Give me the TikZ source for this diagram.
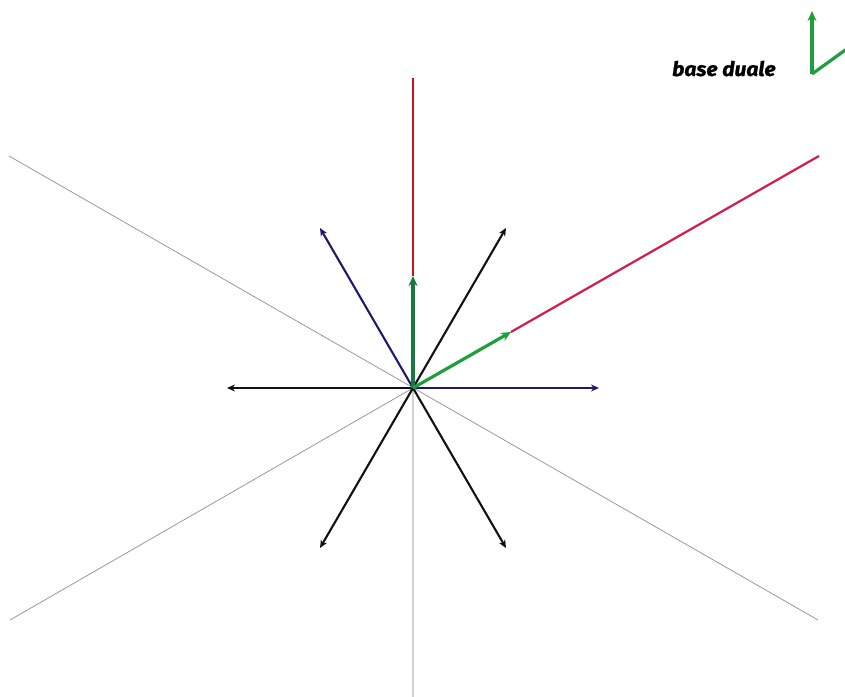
\documentclass[tikz,border=0pt]{standalone}
\usepackage{fontspec}
\setmainfont{Fira Sans}
\newfontfamily\legfont[UprightFont={* Bold Italic}, FakeBold=1.2, FakeStretch=1.05]{Fira Sans}
\usetikzlibrary{arrows.meta}
\definecolor{rootblack}{HTML}{111111}
\definecolor{rootblue}{HTML}{1B1A6B}
\definecolor{wgreen}{HTML}{1E9E3C}
\definecolor{wgreendark}{HTML}{157A3E}
\definecolor{redA}{HTML}{C41414}
\definecolor{redB}{HTML}{D01E48}
\tikzset{
  root/.style={line width=2.1pt,-{Stealth[length=8pt,width=7pt]}},
  weight/.style={line width=3.2pt,-{Stealth[length=10pt,width=9pt]}},
  wall/.style={line width=0.8pt,color=gray!80},
  wallv/.style={line width=2.2pt,color=gray!35},
  chamber/.style={line width=2.2pt},
}
\begin{document}
\begin{tikzpicture}[x=1pt,y=-1pt]
\useasboundingbox (0,0) rectangle (845,696);
\clip (0,0) rectangle (845,696);
\coordinate (O) at (413,388);
% walls
\coordinate (UL) at (9,156);
\coordinate (LR) at (818,620);
\coordinate (LL) at (10,620);
\coordinate (UR) at (819,156);
\coordinate (TOP) at (413,78);
\coordinate (BOT) at (413,700);
\draw[wall] (UL) -- (LR);
\draw[wall] (LL) -- (O);
\draw[wallv] (O) -- (BOT);
% roots
\coordinate (r0) at (599,388);
\coordinate (r60) at (506,228);
\coordinate (r120) at (320,228);
\coordinate (r180) at (227,388);
\coordinate (r240) at (320,548);
\coordinate (r300) at (506,548);
\draw[root,rootblack] (O) -- (r60);
\draw[root,rootblack] (O) -- (r180);
\draw[root,rootblack] (O) -- (r240);
\draw[root,rootblack] (O) -- (r300);
\draw[root,rootblue] (O) -- (r0);
\draw[root,rootblue] (O) -- (r120);
% chamber walls (red)
\coordinate (w1) at (413,276);
\coordinate (w2) at (511,332);
\draw[chamber,redA] (w1) -- (TOP);
\draw[chamber,redB] (w2) -- (UR);
% fundamental weights
\draw[weight,wgreendark] (O) -- (w1);
\draw[weight,wgreen] (O) -- (w2);
% legend
\node[font=\legfont\fontsize{20}{24}\selectfont, anchor=base west, inner sep=0pt] (leg) at (672,76) {base duale};
\coordinate (L0) at (812,74);
\coordinate (L1) at (812,11);
\coordinate (L2) at (862,38);
\draw[weight,wgreen] (L0) -- (L1);
\draw[weight,wgreen] (L0) -- (L2);
\end{tikzpicture}
\end{document}
